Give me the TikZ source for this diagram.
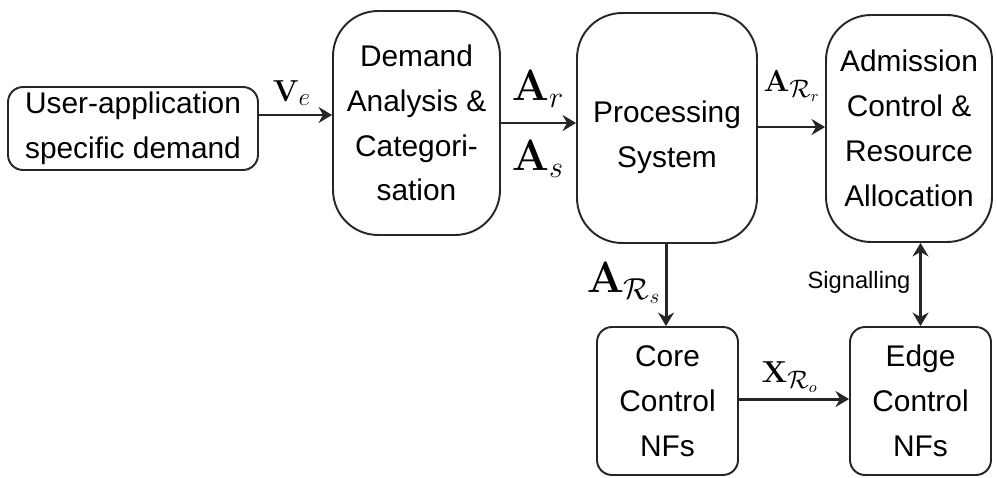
\documentclass[tikz,border=0pt]{standalone}
\usepackage[no-math]{fontspec}
\setmainfont{Liberation Sans}
\usetikzlibrary{arrows.meta,positioning}

\begin{document}
\begin{tikzpicture}[
  x=0.02cm,y=-0.02cm,
  box/.style={
    draw=black!85,line width=1.1pt,fill=white,
    align=center,inner sep=0pt,
    font=\fontsize{17}{25.5}\selectfont
  },
  bigbox/.style={box,rounded corners=0.9cm},
  smallbox/.style={box,rounded corners=0.3cm},
  arrow/.style={-{Stealth[length=2.7mm,width=3.2mm,inset=0.9mm]},draw=black!85,line width=1.7pt},
  dblarrow/.style={arrow,{Stealth[length=2.7mm,width=3.2mm,inset=0.9mm]}-{Stealth[length=2.7mm,width=3.2mm,inset=0.9mm]}},
  bigtag/.style={font=\fontsize{25}{25}\selectfont},
  midtag/.style={font=\fontsize{19}{19}\selectfont},
  sigtag/.style={font=\fontsize{13.5}{14}\selectfont}
]
\useasboundingbox (0,0) rectangle (997,477);

\node[smallbox,minimum width=5cm,minimum height=1.66cm] (user) at (133,128.5) {
  User-application\\specific demand
};
\node[bigbox,minimum width=3.34cm,minimum height=4.48cm] (demand) at (416.5,123) {
  Demand\\Analysis \&\\Categori-\\sation
};
\node[bigbox,minimum width=3.6cm,minimum height=4.6cm,
  label={[name=proctext,align=center,font=\fontsize{17}{25.5}\selectfont,yshift=-0.18cm]center:Processing\\System}]
  (proc) at (667,128) {};
\node[bigbox,minimum width=3.32cm,minimum height=4.54cm] (adm) at (909,128.5) {
  Admission\\Control \&\\Resource\\Allocation
};
\node[smallbox,minimum width=2.82cm,minimum height=2.96cm] (core) at (667.5,401) {
  Core\\Control\\NFs
};
\node[smallbox,minimum width=2.82cm,minimum height=2.96cm] (edge) at (920.5,401) {
  Edge\\Control\\NFs
};

% labels on the connectors
\node[midtag] (ve) at (292,93) {$\mathbf{V}_e$};
\node[bigtag] (ar) at (538,89) {$\mathbf{A}_r$};
\node[bigtag] (as) at (538,159) {$\mathbf{A}_s$};
\node[midtag] (arr) at (792,86) {$\mathbf{A}_{\mathcal{R}_r}$};
\node[bigtag] (ars) at (624,283) {$\mathbf{A}_{\mathcal{R}_s}$};
\node[midtag] (xro) at (790,377) {$\mathbf{X}_{\mathcal{R}_o}$};
\node[sigtag] (sig) at (859,282) {Signalling};

\draw[arrow] ([yshift=0.27cm]user.east) coordinate (vstart)
  -- (vstart -| demand.west);
\draw[arrow] (demand) -- (proc.west |- demand);
\draw[arrow] ([yshift=0.02cm]proc.east) coordinate (rstart)
  -- (rstart -| adm.west);
\draw[arrow] ([xshift=-0.02cm]proc.south) coordinate (sstart)
  -- (sstart |- core.north);
\draw[dblarrow] (edge.north |- adm.south) -- (edge.north);
\draw[arrow] (core.east |- 0,399) -- (edge.west |- 0,399);

\end{tikzpicture}
\end{document}
